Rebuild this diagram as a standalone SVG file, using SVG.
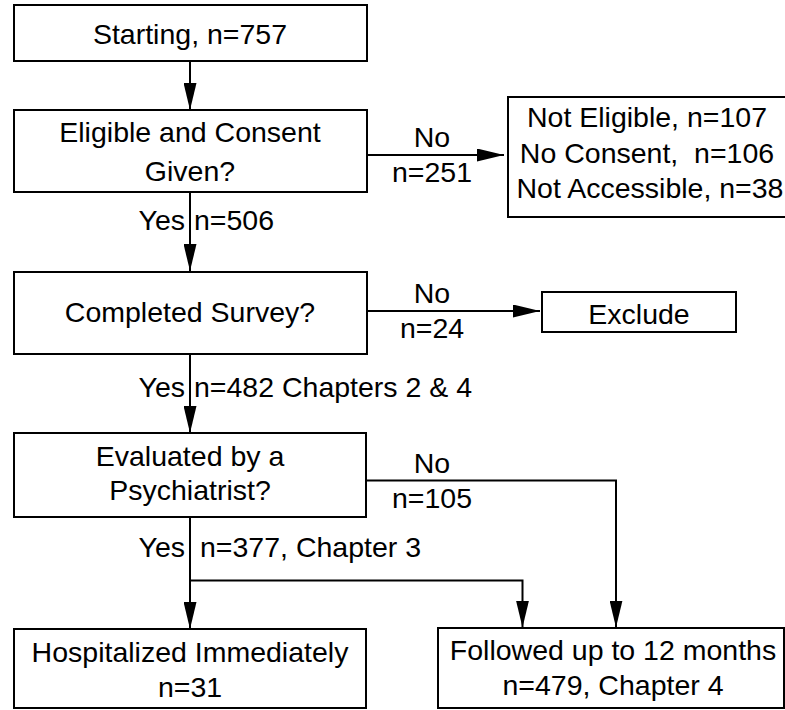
<svg xmlns="http://www.w3.org/2000/svg" width="785" height="710" viewBox="0 0 785 710">
<style>
.box{fill:#fff;stroke:#000;stroke-width:2}
.ln{fill:none;stroke:#000;stroke-width:2}
text{font-family:"Liberation Sans",Arial,sans-serif;font-size:28.5px;fill:#000}
.c{text-anchor:middle}
.e{text-anchor:end}
</style>
<defs>
<marker id="ah" markerUnits="userSpaceOnUse" markerWidth="27" markerHeight="13" refX="27" refY="6.5" orient="auto">
<path d="M0,0 L27,6.5 L0,13 z" fill="#000"/>
</marker>
</defs>
<rect width="785" height="710" fill="#fff"/>
<g id="connectors">
<line class="ln" x1="190" y1="61" x2="190" y2="110" marker-end="url(#ah)"/>
<line class="ln" x1="190" y1="192" x2="190" y2="271" marker-end="url(#ah)"/>
<line class="ln" x1="190" y1="354" x2="190" y2="433" marker-end="url(#ah)"/>
<line class="ln" x1="190" y1="517" x2="190" y2="629" marker-end="url(#ah)"/>
<line class="ln" x1="367" y1="155" x2="504" y2="155" marker-end="url(#ah)"/>
<line class="ln" x1="367" y1="311" x2="540" y2="311" marker-end="url(#ah)"/>
<polyline class="ln" points="366,480.5 616,480.5 616,627.5" marker-end="url(#ah)"/>
<polyline class="ln" points="190,580.5 522.5,580.5 522.5,627.5" marker-end="url(#ah)"/>
<text class="c" x="432" y="147">No</text>
<text class="c" x="432" y="182">n=251</text>
<text class="e" x="185" y="230">Yes</text>
<text x="194" y="230">n=506</text>
<text class="c" x="432" y="303">No</text>
<text class="c" x="432" y="338">n=24</text>
<text class="e" x="185" y="397">Yes</text>
<text x="194" y="397">n=482 Chapters 2 &amp; 4</text>
<text class="c" x="432" y="473">No</text>
<text class="c" x="432" y="508">n=105</text>
<text class="e" x="185" y="557">Yes</text>
<text x="200" y="557">n=377, Chapter 3</text>
</g>
<g id="start">
<rect class="box" x="14" y="5" width="353" height="56"/>
<text class="c" x="190" y="44">Starting, n=757</text>
</g>
<g id="eligible">
<rect class="box" x="14" y="110" width="353" height="82"/>
<text class="c" x="190" y="142">Eligible and Consent</text>
<text class="c" x="190" y="181">Given?</text>
</g>
<g id="noteligible">
<rect class="box" x="508" y="97" width="280" height="120"/>
<text class="c" x="647" y="127">Not Eligible, n=107</text>
<text class="c" x="647" y="163" xml:space="preserve" style="white-space:pre">No Consent,  n=106</text>
<text class="c" x="650" y="198">Not Accessible, n=38</text>
</g>
<g id="survey">
<rect class="box" x="14" y="272" width="353" height="82"/>
<text class="c" x="190" y="322">Completed Survey?</text>
</g>
<g id="exclude">
<rect class="box" x="542" y="292" width="194" height="40"/>
<text class="c" x="639" y="324">Exclude</text>
</g>
<g id="evaluated">
<rect class="box" x="14" y="433" width="352" height="84"/>
<text class="c" x="190" y="466">Evaluated by a</text>
<text class="c" x="190" y="500">Psychiatrist?</text>
</g>
<g id="hospitalized">
<rect class="box" x="14" y="629" width="352" height="79"/>
<text class="c" x="190" y="662">Hospitalized Immediately</text>
<text class="c" x="190" y="697">n=31</text>
</g>
<g id="followed">
<rect class="box" x="438" y="628" width="346" height="80"/>
<text class="c" x="613" y="660">Followed up to 12 months</text>
<text class="c" x="613" y="695">n=479, Chapter 4</text>
</g>
</svg>
